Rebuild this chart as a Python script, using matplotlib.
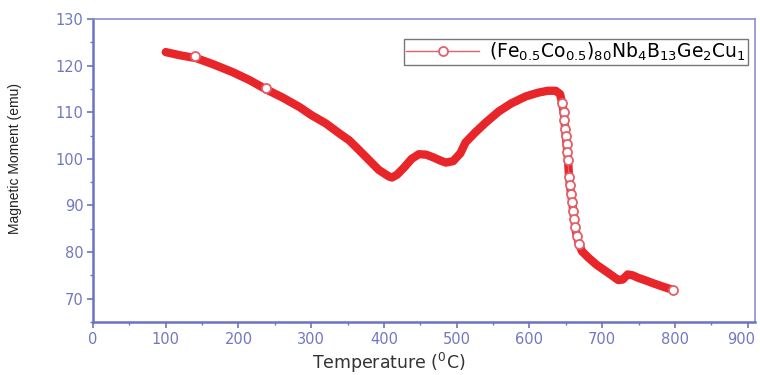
import matplotlib
matplotlib.use("Agg")
import matplotlib.pyplot as plt
from matplotlib.ticker import MultipleLocator
from matplotlib.transforms import ScaledTranslation

plt.rcParams['font.family'] = ['DejaVu Sans']
plt.rcParams['mathtext.default'] = 'regular'

# Smooth (densely sampled) part before the magnetic transition
temp_low = [100, 120, 142, 165, 192, 215, 238, 260, 284, 300, 320, 340, 352, 365,
            379, 393, 407, 411, 418, 428, 438, 448, 458, 468, 478, 485, 495, 505,
            512, 525, 540, 558, 575, 595, 612, 625, 636, 642]
moment_low = [122.9, 122.2, 121.6, 120.3, 118.6, 116.9, 114.9, 113.2, 111.1, 109.4,
              107.6, 105.3, 104.0, 102.0, 99.8, 97.6, 96.2, 96.0, 96.6, 98.2, 100.0,
              101.0, 100.9, 100.3, 99.6, 99.2, 99.5, 101.2, 103.5, 105.6, 107.8,
              110.2, 111.9, 113.4, 114.2, 114.6, 114.6, 113.9]

# Steep drop (sparse points)
temp_drop = [645, 647, 648, 649, 650, 651, 652, 653, 654.4, 655.7, 657, 659, 660,
             661.6, 663, 665, 668]
moment_drop = [111.9, 110.1, 108.3, 106.5, 104.8, 103.1, 101.5, 99.7, 96.1, 94.3,
               92.5, 90.7, 88.9, 87.1, 85.3, 83.5, 81.8]

# High-temperature tail
temp_high = [672, 681, 692, 704, 714, 722, 728, 735, 742, 749, 760, 772, 785, 797]
moment_high = [80.2, 78.8, 77.3, 76.0, 74.9, 74.0, 74.1, 75.2, 75.0, 74.5, 73.9,
               73.2, 72.5, 71.9]

# Individually visible open circles
temp_open = [140, 238, 797]
moment_open = [122.1, 115.1, 71.9]

x_ticks = [0, 100, 200, 300, 400, 500, 600, 700, 800, 900]
y_ticks = [70, 80, 90, 100, 110, 120, 130]

legend_label = r'(Fe$_{0.5}$Co$_{0.5}$)$_{80}$Nb$_{4}$B$_{13}$Ge$_{2}$Cu$_{1}$'

red = '#e8262a'
pink = '#e2606a'
axis_blue = '#6b73c4'
tick_blue = '#7178c2'

fig = plt.figure(figsize=(7.6, 3.75), dpi=100)
ax = fig.add_axes([93 / 760, 53 / 375, 662 / 760, 303 / 375])

all_t = temp_low + temp_drop + temp_high
all_m = moment_low + moment_drop + moment_high
ax.plot(all_t, all_m, color=red, lw=6.0, solid_capstyle='round',
        solid_joinstyle='round', zorder=2)
ax.plot(temp_drop, moment_drop, '-o', color=pink, lw=1.0, ms=6.5,
        mfc='white', mec=pink, mew=1.3, zorder=3, label=legend_label)
ax.plot(temp_open, moment_open, 'o', ms=6.5, mfc='white', mec=pink, mew=1.3,
        zorder=3)

ax.set_xlim(0, 910)
ax.set_ylim(65, 130)
ax.set_xticks(x_ticks)
ax.set_yticks(y_ticks)
ax.xaxis.set_minor_locator(MultipleLocator(50))
ax.yaxis.set_minor_locator(MultipleLocator(5))

for side in ['left', 'bottom']:
    ax.spines[side].set_color(axis_blue)
    ax.spines[side].set_linewidth(1.8)
for side in ['top', 'right']:
    ax.spines[side].set_color('#8a90d0')
    ax.spines[side].set_linewidth(1.2)

ax.tick_params(axis='both', which='major', direction='out', length=4, width=1.2,
               color=axis_blue, labelcolor=tick_blue, labelsize=10.5, pad=3)
ax.tick_params(axis='both', which='minor', direction='out', length=2.5, width=1.0,
               color=axis_blue)

# keep the right-most tick label inside the figure
fig.canvas.draw()
last = ax.get_xticklabels()[-1]
last.set_transform(last.get_transform() + ScaledTranslation(-7 / 100, 0, fig.dpi_scale_trans))

ax.set_xlabel('Temperature ($^{0}$C)', fontsize=12.5, color='#333333')
ax.xaxis.set_label_coords(0.447, -0.095)
ax.set_ylabel('Magnetic Moment (emu)', fontsize=10, color='#222222',
              family=['Liberation Sans Narrow', 'Liberation Sans'])
ax.yaxis.set_label_coords(-0.107, 0.541)

leg = ax.legend(loc='upper right', bbox_to_anchor=(0.989, 0.935),
                borderaxespad=0, fontsize=13.5, frameon=True, fancybox=False,
                handlelength=3.9, borderpad=0.12, handletextpad=0.5)
leg.get_frame().set_edgecolor('#555555')
leg.get_frame().set_linewidth(1.0)

fig.savefig('out.png', dpi=100)
